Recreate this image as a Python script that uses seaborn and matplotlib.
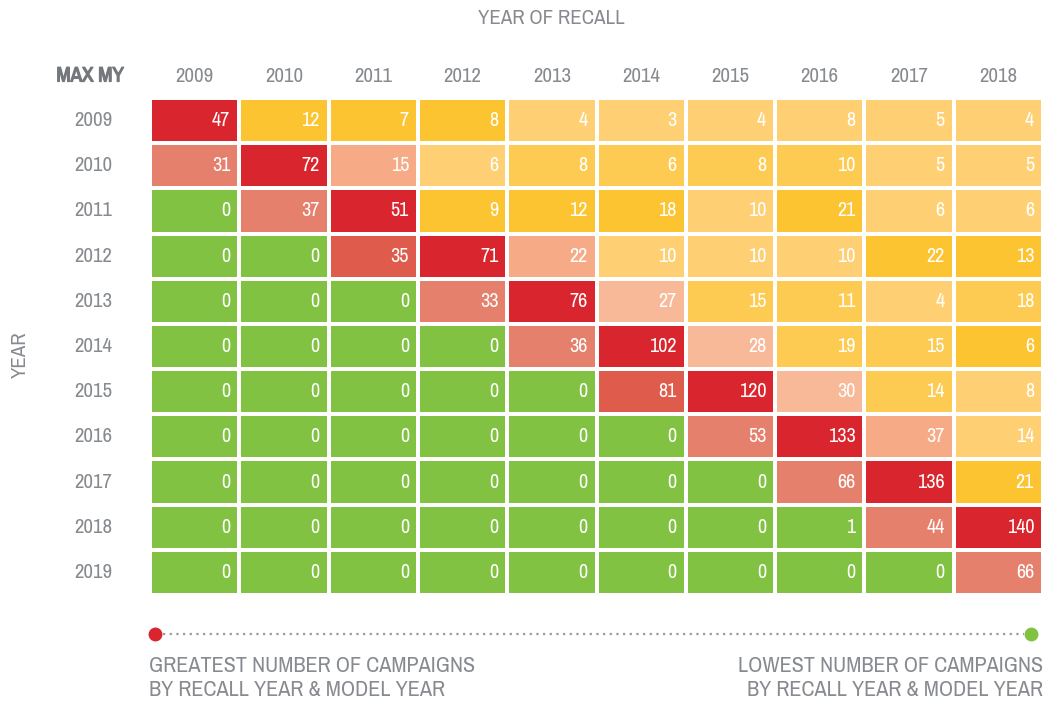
import numpy as np
import pandas as pd
import matplotlib
matplotlib.use("Agg")
import matplotlib.pyplot as plt
from matplotlib import font_manager as fm
from matplotlib import patheffects as pe
from matplotlib.colors import ListedColormap, BoundaryNorm
from matplotlib.lines import Line2D
import seaborn as sns

recall_years = ["2009", "2010", "2011", "2012", "2013", "2014", "2015", "2016", "2017", "2018"]
model_years = ["2009", "2010", "2011", "2012", "2013", "2014", "2015", "2016", "2017", "2018", "2019"]

# Number of recall campaigns per model year (rows) and recall year (columns)
campaigns = [
    [47, 12, 7, 8, 4, 3, 4, 8, 5, 4],
    [31, 72, 15, 6, 8, 6, 8, 10, 5, 5],
    [0, 37, 51, 9, 12, 18, 10, 21, 6, 6],
    [0, 0, 35, 71, 22, 10, 10, 10, 22, 13],
    [0, 0, 0, 33, 76, 27, 15, 11, 4, 18],
    [0, 0, 0, 0, 36, 102, 28, 19, 15, 6],
    [0, 0, 0, 0, 0, 81, 120, 30, 14, 8],
    [0, 0, 0, 0, 0, 0, 53, 133, 37, 14],
    [0, 0, 0, 0, 0, 0, 0, 66, 136, 21],
    [0, 0, 0, 0, 0, 0, 0, 1, 44, 140],
    [0, 0, 0, 0, 0, 0, 0, 0, 0, 66],
]

# Shading tier of each cell (0 = lowest, 8 = greatest)
tiers = [
    [8, 3, 3, 3, 1, 1, 1, 1, 1, 1],
    [6, 8, 5, 1, 2, 2, 2, 2, 1, 1],
    [0, 6, 8, 3, 3, 3, 1, 3, 1, 1],
    [0, 0, 7, 8, 5, 1, 1, 1, 3, 3],
    [0, 0, 0, 6, 8, 4, 2, 2, 1, 2],
    [0, 0, 0, 0, 6, 8, 4, 2, 2, 3],
    [0, 0, 0, 0, 0, 7, 8, 4, 2, 1],
    [0, 0, 0, 0, 0, 0, 6, 8, 5, 1],
    [0, 0, 0, 0, 0, 0, 0, 6, 8, 3],
    [0, 0, 0, 0, 0, 0, 0, 0, 6, 8],
    [0, 0, 0, 0, 0, 0, 0, 0, 0, 6],
]

tier_colors = ["#81C243", "#FED073", "#FECB52", "#FDC432", "#F8B999",
               "#F6AB86", "#E4806C", "#DF5B4B", "#D9252E"]

values = pd.DataFrame(campaigns, index=model_years, columns=recall_years)
shade = pd.DataFrame(tiers, index=model_years, columns=recall_years)

GREY = "#878a8f"
DARK_GREY = "#74777c"

# prefer a narrow sans face when one is installed
narrow = None
for f in fm.fontManager.ttflist:
    if ("Condensed" in f.name or "Narrow" in f.name) and "Bold" not in f.name:
        narrow = f.name
        break
if narrow is None:
    for f in fm.fontManager.ttflist:
        if f.stretch in ("condensed", "semi-condensed") and "Sans" in f.name:
            narrow = f.name
            break
STRETCH = "normal"
if narrow is None:
    narrow = "DejaVu Sans"
    if any(f.name == "DejaVu Sans" and f.stretch == "condensed" for f in fm.fontManager.ttflist):
        STRETCH = "condensed"
plt.rcParams["font.family"] = [narrow, "DejaVu Sans"]
plt.rcParams["font.stretch"] = STRETCH

fig = plt.figure(figsize=(10.45, 7.02), dpi=100)
ax = fig.add_axes([150 / 1045, 1 - 595 / 702, 893 / 1045, 497 / 702])

cmap = ListedColormap(tier_colors)
norm = BoundaryNorm(np.arange(-0.5, len(tier_colors) + 0.5), cmap.N)
sns.heatmap(shade, ax=ax, cmap=cmap, norm=norm, cbar=False,
            annot=values, fmt="d", linewidths=1.6, linecolor="white",
            annot_kws={"color": "white", "fontsize": 14.5})

# right-align the value labels inside each cell
for t in ax.texts:
    x, y = t.get_position()
    t.set_position((x + 0.40, y))
    t.set_ha("right")

ax.xaxis.tick_top()
ax.set_xlabel("")
ax.set_ylabel("")
ax.tick_params(axis="both", length=0, labelsize=15, labelcolor=GREY)
ax.tick_params(axis="x", pad=9)
ax.tick_params(axis="y", pad=27)
plt.setp(ax.get_yticklabels(), rotation=0)
plt.setp(ax.get_xticklabels(), rotation=0)
for s in ax.spines.values():
    s.set_visible(False)

fig.text(551 / 1045, 1 - 19 / 702, "YEAR OF RECALL", ha="center", va="center",
         fontsize=15, color=GREY)
fig.text(90 / 1045, 1 - 76 / 702, "MAX MY", ha="center", va="center",
         fontsize=15, color=DARK_GREY, fontweight="bold",
         path_effects=[pe.withStroke(linewidth=0.9, foreground=DARK_GREY)])
fig.text(20 / 1045, 1 - 355 / 702, "YEAR", ha="center", va="center",
         fontsize=15, color=GREY, rotation=90)

# scale legend: dotted line between red and green markers
ly = 1 - 634 / 702
fig.add_artist(Line2D([163 / 1045, 1024 / 1045], [ly, ly], transform=fig.transFigure,
                      color="#9a9a9a", linestyle=(0, (1, 2)), linewidth=1.6))
fig.add_artist(Line2D([155 / 1045], [ly], transform=fig.transFigure, marker="o",
                      markersize=9, color=tier_colors[-1], linestyle="none"))
fig.add_artist(Line2D([1031 / 1045], [ly], transform=fig.transFigure, marker="o",
                      markersize=9, color=tier_colors[0], linestyle="none"))

fig.text(149 / 1045, 1 - 678 / 702,
         "GREATEST NUMBER OF CAMPAIGNS\nBY RECALL YEAR & MODEL YEAR",
         ha="left", va="center", fontsize=16, color=GREY, linespacing=1.25)
fig.text(1043 / 1045, 1 - 678 / 702,
         "LOWEST NUMBER OF CAMPAIGNS\nBY RECALL YEAR & MODEL YEAR",
         ha="right", va="center", multialignment="right",
         fontsize=16, color=GREY, linespacing=1.25)

fig.savefig("out.png", dpi=100)
